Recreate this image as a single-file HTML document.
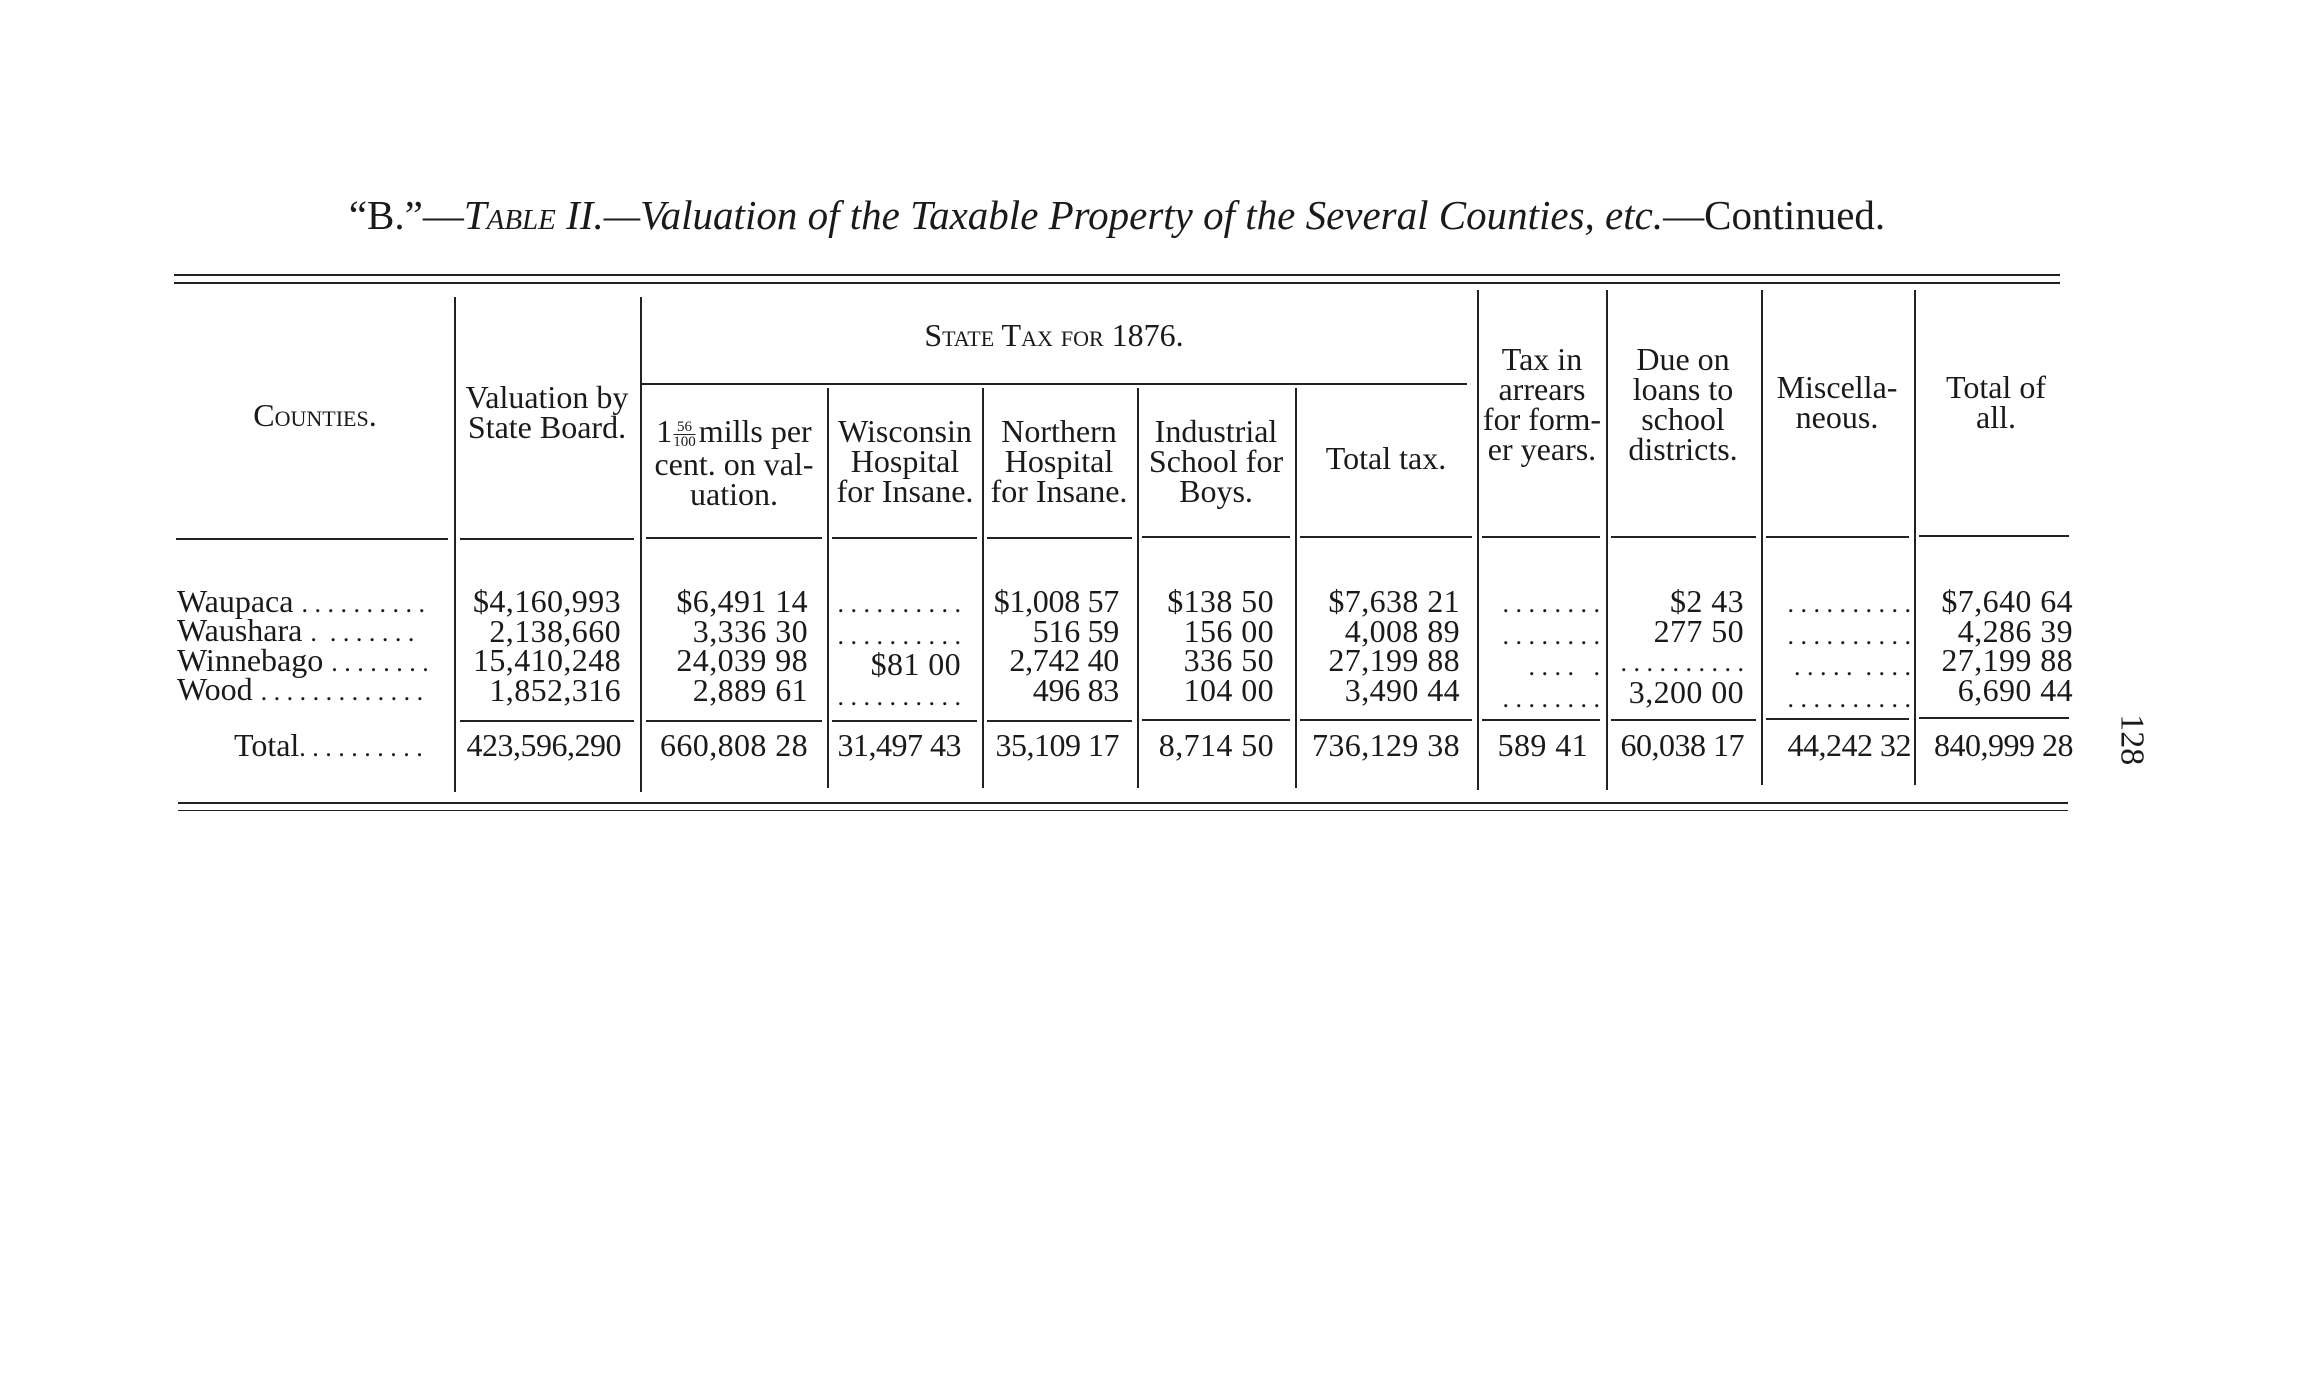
<!DOCTYPE html>
<html><head><meta charset="utf-8"><style>
html,body{margin:0;padding:0;background:#fff;}
body{width:2312px;height:1380px;position:relative;overflow:hidden;font-family:"Liberation Serif",serif;color:#1a1a1a;}
.t{position:absolute;font-size:32px;line-height:29.5px;white-space:nowrap;}
.l{text-align:left;}
.r{text-align:right;letter-spacing:0.4px;}
.d{font-size:26px;letter-spacing:0;}
.c{transform:translateX(-50%);text-align:center;line-height:30px;}
.h{position:absolute;background:#222;height:2px;}
.v{position:absolute;background:#222;width:2px;}
.sc{font-variant:small-caps;}
.fr{display:inline-block;vertical-align:middle;font-size:15px;line-height:14px;text-align:center;margin:0 3px 0 1px;}
.fr span{display:block;}
</style></head><body>
<div class="t c" style="left:1117px;top:192px;font-size:41px;line-height:46px;">“B.”—<i><span class="sc">Table</span> II.—Valuation of the Taxable Property of the Several Counties, etc.</i>—Continued.</div>

<div class="h" style="left:174px;top:274px;width:1886px;"></div>
<div class="h" style="left:174px;top:282px;width:1886px;"></div>
<div class="h" style="left:178px;top:802px;width:1890px;"></div>
<div class="h" style="left:178px;top:810px;width:1890px;height:1px;"></div>

<div class="v" style="left:454px;top:297px;height:495px;"></div>
<div class="v" style="left:640px;top:297px;height:495px;"></div>
<div class="v" style="left:827px;top:388px;height:400px;"></div>
<div class="v" style="left:982px;top:388px;height:400px;"></div>
<div class="v" style="left:1137px;top:388px;height:400px;"></div>
<div class="v" style="left:1295px;top:388px;height:400px;"></div>
<div class="v" style="left:1477px;top:290px;height:500px;"></div>
<div class="v" style="left:1606px;top:290px;height:500px;"></div>
<div class="v" style="left:1761px;top:290px;height:495px;"></div>
<div class="v" style="left:1914px;top:290px;height:495px;"></div>
<div class="h" style="left:640px;top:383px;width:827px;"></div>

<div class="h" style="left:176px;top:538px;width:272px;"></div>
<div class="h" style="left:460px;top:538px;width:174px;"></div>
<div class="h" style="left:646px;top:537px;width:176px;"></div>
<div class="h" style="left:832px;top:537px;width:145px;"></div>
<div class="h" style="left:987px;top:537px;width:145px;"></div>
<div class="h" style="left:1142px;top:536px;width:148px;"></div>
<div class="h" style="left:1300px;top:536px;width:172px;"></div>
<div class="h" style="left:1482px;top:536px;width:118px;"></div>
<div class="h" style="left:1611px;top:536px;width:145px;"></div>
<div class="h" style="left:1766px;top:536px;width:143px;"></div>
<div class="h" style="left:1919px;top:535px;width:150px;"></div>

<div class="h" style="left:460px;top:720px;width:174px;"></div>
<div class="h" style="left:646px;top:720px;width:176px;"></div>
<div class="h" style="left:832px;top:720px;width:145px;"></div>
<div class="h" style="left:987px;top:720px;width:145px;"></div>
<div class="h" style="left:1142px;top:719px;width:148px;"></div>
<div class="h" style="left:1300px;top:719px;width:172px;"></div>
<div class="h" style="left:1482px;top:719px;width:118px;"></div>
<div class="h" style="left:1611px;top:719px;width:145px;"></div>
<div class="h" style="left:1766px;top:718px;width:143px;"></div>
<div class="h" style="left:1919px;top:717px;width:150px;"></div>

<!-- headers -->
<div class="t c sc" style="left:1054px;top:320px;">State Tax for 1876.</div>
<div class="t c sc" style="left:315px;top:400px;">Counties.</div>
<div class="t c" style="left:547px;top:382px;">Valuation by<br>State Board.</div>
<div class="t c" style="left:734px;top:416px;">1<span class="fr"><span style="border-bottom:1px solid #222;">56</span><span>100</span></span>mills per<br>cent. on val-<br>uation.</div>
<div class="t c" style="left:905px;top:416px;">Wisconsin<br>Hospital<br>for Insane.</div>
<div class="t c" style="left:1059px;top:416px;">Northern<br>Hospital<br>for Insane.</div>
<div class="t c" style="left:1216px;top:416px;">Industrial<br>School for<br>Boys.</div>
<div class="t c" style="left:1386px;top:443px;">Total tax.</div>
<div class="t c" style="left:1542px;top:344px;">Tax in<br>arrears<br>for form-<br>er years.</div>
<div class="t c" style="left:1683px;top:344px;">Due on<br>loans to<br>school<br>districts.</div>
<div class="t c" style="left:1837px;top:372px;">Miscella-<br>neous.</div>
<div class="t c" style="left:1996px;top:372px;">Total of<br>all.</div>

<!-- counties -->
<div class="t l" style="left:177px;top:587px;">Waupaca <span class="d">. . . . . . . . . .</span></div>
<div class="t l" style="left:177px;top:616px;">Waushara <span class="d">. &nbsp;. . . . . . .</span></div>
<div class="t l" style="left:177px;top:646px;">Winnebago <span class="d">. . . . . . . .</span></div>
<div class="t l" style="left:177px;top:675px;">Wood <span class="d">. . . . . . . . . . . . .</span></div>
<div class="t l" style="left:234px;top:731px;">Total<span class="d">. . . . . . . . . .</span></div>

<div class="t r" style="right:1691px;top:587px;">$4,160,993<br>2,138,660<br>15,410,248<br>1,852,316</div>
<div class="t r" style="right:1691px;top:731px;letter-spacing:-0.5px;">423,596,290</div>
<div class="t r" style="right:1504px;top:587px;">$6,491 14<br>3,336 30<br>24,039 98<br>2,889 61</div>
<div class="t r" style="right:1504px;top:731px;">660,808 28</div>
<div class="t r" style="right:1351px;top:587px;"><span class="d">. . . . . . . . . .</span><br><span class="d">. . . . . . . . . .</span><br>$81 00<br><span class="d">. . . . . . . . . .</span></div>
<div class="t r" style="right:1351px;top:731px;letter-spacing:-0.5px;">31,497 43</div>
<div class="t r" style="right:1193px;top:587px;letter-spacing:-0.3px;">$1,008 57<br>516 59<br>2,742 40<br>496 83</div>
<div class="t r" style="right:1193px;top:731px;letter-spacing:-0.5px;">35,109 17</div>
<div class="t r" style="right:1038px;top:587px;">$138 50<br>156 00<br>336 50<br>104 00</div>
<div class="t r" style="right:1038px;top:731px;">8,714 50</div>
<div class="t r" style="right:852px;top:587px;">$7,638 21<br>4,008 89<br>27,199 88<br>3,490 44</div>
<div class="t r" style="right:852px;top:731px;">736,129 38</div>
<div class="t r" style="right:712px;top:587px;"><span class="d">. . . . . . . .<br>. . . . . . . .<br>. . . . &nbsp; .<br>. . . . . . . .</span></div>
<div class="t r" style="right:724px;top:731px;">589 41</div>
<div class="t r" style="right:568px;top:587px;">$2 43<br>277 50<br><span class="d">. . . . . . . . . .</span><br>3,200 00</div>
<div class="t r" style="right:568px;top:731px;letter-spacing:-0.5px;">60,038 17</div>
<div class="t r" style="right:401px;top:587px;"><span class="d">. . . . . . . . . .<br>. . . . . . . . . .<br>. . . . . &nbsp;. . . .<br>. . . . . . . . . .</span></div>
<div class="t r" style="right:401px;top:731px;letter-spacing:-0.5px;">44,242 32</div>
<div class="t r" style="right:239px;top:587px;">$7,640 64<br>4,286 39<br>27,199 88<br>6,690 44</div>
<div class="t r" style="right:239px;top:731px;letter-spacing:-0.5px;">840,999 28</div>

<div class="t" style="left:2106px;top:725px;font-size:34px;transform:rotate(90deg);">128</div>
</body></html>
